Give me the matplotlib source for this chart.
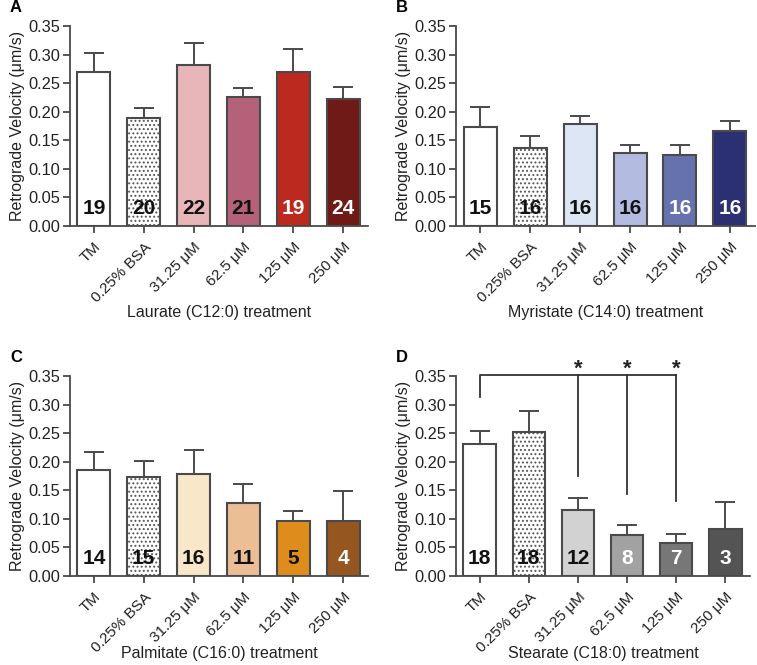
import matplotlib
matplotlib.use("Agg")
import matplotlib.pyplot as plt
import numpy as np

plt.rcParams['font.family'] = ['Liberation Sans', 'DejaVu Sans']
plt.rcParams['hatch.linewidth'] = 0.9

categories = ["TM", "0.25% BSA", "31.25 μM", "62.5 μM", "125 μM", "250 μM"]

laurate_mean = [0.269, 0.189, 0.282, 0.225, 0.270, 0.222]
laurate_err = [0.034, 0.017, 0.039, 0.016, 0.039, 0.022]
laurate_n = [19, 20, 22, 21, 19, 24]

myristate_mean = [0.174, 0.137, 0.179, 0.128, 0.124, 0.167]
myristate_err = [0.034, 0.021, 0.014, 0.014, 0.017, 0.016]
myristate_n = [15, 16, 16, 16, 16, 16]

palmitate_mean = [0.185, 0.174, 0.178, 0.127, 0.096, 0.096]
palmitate_err = [0.032, 0.028, 0.042, 0.034, 0.018, 0.053]
palmitate_n = [14, 15, 16, 11, 5, 4]

stearate_mean = [0.231, 0.252, 0.115, 0.071, 0.057, 0.083]
stearate_err = [0.023, 0.037, 0.022, 0.019, 0.016, 0.046]
stearate_n = [18, 18, 12, 8, 7, 3]

# significance bracket (panel D): compared groups and vertical line ends
sig_groups = [2, 3, 4]
sig_line_bottom = [0.175, 0.143, 0.131]

panels = [
    dict(letter="A", xlabel="Laurate (C12:0) treatment", mean=laurate_mean, err=laurate_err, n=laurate_n,
         colors=["white", "white", "#E8B5B8", "#B5617A", "#BC2A1F", "#6F1A16"],
         tcolors=["#111", "#111", "#111", "#111", "white", "white"],
         rect=[70, 26, 368, 226], xl_y=-0.395),
    dict(letter="B", xlabel="Myristate (C14:0) treatment", mean=myristate_mean, err=myristate_err, n=myristate_n,
         colors=["white", "white", "#DDE6F5", "#B3BCE0", "#6672AE", "#2B2F74"],
         tcolors=["#111", "#111", "#111", "#111", "white", "white"],
         rect=[456, 26, 755, 226], xl_y=-0.395),
    dict(letter="C", xlabel="Palmitate (C16:0) treatment", mean=palmitate_mean, err=palmitate_err, n=palmitate_n,
         colors=["white", "white", "#F8E7C9", "#EBBE96", "#DE8D1C", "#96561F"],
         tcolors=["#111", "#111", "#111", "#111", "#111", "white"],
         rect=[70, 376, 368, 576], xl_y=-0.35),
    dict(letter="D", xlabel="Stearate (C18:0) treatment", mean=stearate_mean, err=stearate_err, n=stearate_n,
         colors=["white", "white", "#D2D2D2", "#A2A2A2", "#777777", "#545454"],
         tcolors=["#111", "#111", "#111", "white", "white", "white"],
         rect=[456, 376, 750, 576], xl_y=-0.35),
]

W, H = 757, 665
fig = plt.figure(figsize=(W / 100, H / 100), dpi=100)

edge = "#4a4a4a"
for p in panels:
    l, t, r, b = p["rect"]
    ax = fig.add_axes([l / W, 1 - b / H, (r - l) / W, (b - t) / H])
    x = np.arange(len(categories))
    mean = p["mean"]
    err = p["err"]
    ax.errorbar(x, mean, yerr=[np.zeros(len(err)), err], fmt="none", ecolor=edge,
                elinewidth=1.4, capsize=7, capthick=1.4, zorder=1)
    for i in range(len(categories)):
        if i == 1:
            ax.bar(x[i], mean[i], width=0.66, color="white", edgecolor="#555555",
                   linewidth=0, hatch="....", zorder=2)
            ax.bar(x[i], mean[i], width=0.66, color="none", edgecolor=edge,
                   linewidth=1.5, zorder=2.1)
        else:
            ax.bar(x[i], mean[i], width=0.66, color=p["colors"][i], edgecolor=edge,
                   linewidth=1.5, zorder=2)
        ax.text(x[i], 0.031, str(p["n"][i]), ha="center", va="center", fontsize=15,
                fontweight="bold", color=p["tcolors"][i], zorder=3)
    ax.set_xlim(-0.48, 5.5)
    ax.set_ylim(0, 0.35)
    ax.set_yticks(np.arange(0, 0.351, 0.05))
    ax.set_yticklabels([f"{v:.2f}" for v in np.arange(0, 0.351, 0.05)])
    ax.set_xticks(x)
    ax.set_xticklabels(categories, rotation=45, ha="right", rotation_mode="anchor")
    for s in ["top", "right"]:
        ax.spines[s].set_visible(False)
    for s in ["left", "bottom"]:
        ax.spines[s].set_color(edge)
        ax.spines[s].set_linewidth(1.3)
    ax.tick_params(axis="both", colors=edge, width=1.3, length=5, labelcolor="#222")
    ax.tick_params(axis="x", pad=5, labelsize=11)
    ax.tick_params(axis="y", pad=2, labelsize=11.8)
    ax.set_ylabel("Retrograde Velocity (μm/s)", fontsize=11.5, color="#222")
    ax.yaxis.set_label_coords(-0.152, 0.5)
    ax.set_xlabel(p["xlabel"], fontsize=11.5, color="#222")
    ax.xaxis.set_label_coords(0.5, p["xl_y"])
    fig.text((l - 60) / W, 1 - (t - 18) / H, p["letter"], fontsize=12, fontweight="bold",
             ha="left", va="center")
    if p["letter"] == "D":
        top = 0.352
        ax.plot([0, 0, sig_groups[-1]], [0.313, top, top], color="#333", lw=1.3,
                clip_on=False, zorder=4)
        for g, yb in zip(sig_groups, sig_line_bottom):
            ax.plot([g, g], [top, yb], color="#333", lw=1.3, clip_on=False, zorder=4)
            ax.text(g, 0.362, "*", ha="center", va="center", fontsize=16,
                    fontweight="bold", color="#222", clip_on=False)

fig.savefig("out.png", dpi=100)
